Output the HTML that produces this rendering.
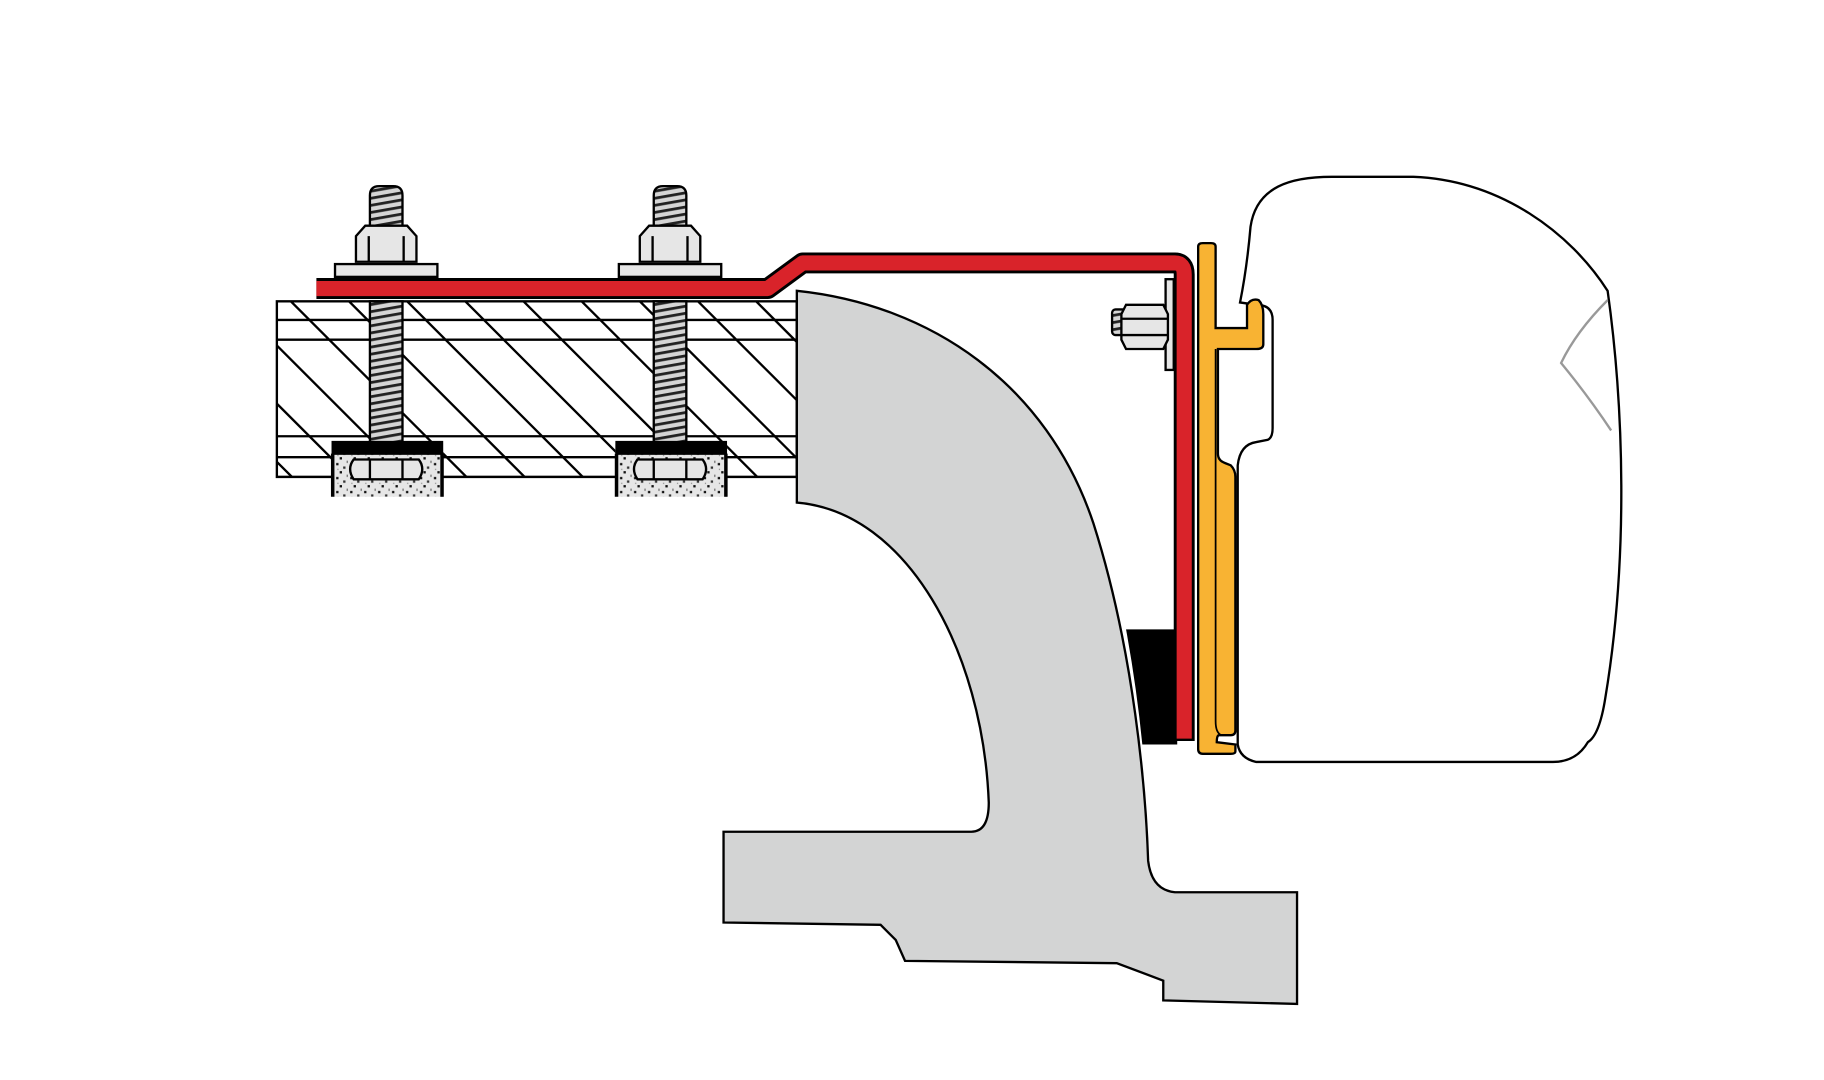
<!DOCTYPE html>
<html><head><meta charset="utf-8"><style>html,body{margin:0;padding:0;background:#fff}svg{display:block}</style></head>
<body>
<svg width="1824" height="1080" viewBox="0 0 1568 928.4" xmlns="http://www.w3.org/2000/svg">
<defs>
<clipPath id="wood"><rect x="238" y="259" width="447" height="151"/></clipPath>
<pattern id="thr" width="10" height="6" patternUnits="userSpaceOnUse" patternTransform="rotate(-10)">
<rect width="10" height="6" fill="#d5d5d5"/><rect y="0" width="10" height="2.4" fill="#222"/></pattern>
<pattern id="spk" width="12" height="12" patternUnits="userSpaceOnUse">
<rect width="12" height="12" fill="#e6e6e6"/><rect x="1" y="2" width="2" height="2" fill="#111"/><rect x="7" y="5" width="2" height="2" fill="#333"/><rect x="4" y="9" width="2" height="2" fill="#111"/><rect x="10" y="0" width="1" height="2" fill="#666"/><rect x="2" y="7" width="1" height="1" fill="#888"/></pattern>
</defs>
<rect width="1568" height="928.4" fill="#fff"/>
<!-- wood -->
<g clip-path="url(#wood)" stroke="#000" stroke-width="2" fill="none">
<rect x="238" y="259" width="447" height="151" fill="#fff"/>
<g id="h"></g>
<path d="M150,259 l151,151 M200,259 l151,151 M250,259 l151,151 M300,259 l151,151 M350,259 l151,151 M400,259 l151,151 M450,259 l151,151 M500,259 l151,151 M550,259 l151,151 M600,259 l151,151 M650,259 l151,151 M100,259 l151,151 M203,259 l-0,0"/>
<path d="M238,275 H685 M238,292 H685 M238,375 H685 M238,393 H685"/>
</g>
<rect x="238" y="259" width="447" height="151" fill="none" stroke="#000" stroke-width="2"/>
<!-- bolts -->
<g id="bolt" stroke="#000" stroke-width="2">
<rect x="318" y="259" width="28" height="122" fill="url(#thr)"/>
<path d="M318,195 L318,168 Q318,160 326,160 L338,160 Q346,160 346,168 L346,195 Z" fill="url(#thr)"/>
<path d="M306,203 L314,194 L350,194 L358,203 L358,225 L306,225 Z" fill="#e6e6e6"/>
<path d="M317,203 V225 M347,203 V225" fill="none"/>
<rect x="288" y="227" width="88" height="11" fill="#e6e6e6"/>
<rect x="285" y="381" width="96" height="46" fill="url(#spk)" stroke="none"/>
<rect x="286" y="380" width="94" height="10" fill="#000"/>
<path d="M286,390 V427 M380,390 V427" fill="none" stroke-width="3"/>
<path d="M304,395 Q298,403 304,412 L360,412 Q366,403 360,395 Z" fill="#e6e6e6"/>
<path d="M318,395 V412 M346,395 V412" fill="none"/>
</g>
<use href="#bolt" x="244"/>
<!-- gray arch -->
<path d="M685,250 C800,262 900,330 940,450 C975,560 985,680 987,740 Q990,765 1010,767 L1115,767 L1115,863 L1000,860 L1000,843 L960,828 L778,826 L770,808 L757,795 L622,793 L622,715 L835,715 Q850,715 850,690 C845,560 780,440 685,432 Z" fill="#d3d4d4" stroke="#000" stroke-width="2"/>
<!-- black block -->
<path d="M968,541 L1012,541 L1012,640 L982,640 Q977,590 968,541 Z" fill="#000"/>
<!-- small nut and plate -->
<g stroke="#000" stroke-width="2">
<rect x="1002" y="240" width="7" height="78" fill="#e6e6e6"/>
<rect x="956" y="266" width="14" height="22" rx="3" fill="url(#thr)"/>
<path d="M968,262 L1000,262 L1004,270 L1004,292 L1000,300 L968,300 L964,292 L964,270 Z" fill="#e6e6e6"/>
<path d="M964,274 H1004 M964,288 H1004" fill="none"/>
</g>
<!-- red bracket -->
<path d="M272,248 L660,248 L690,226 L1010,226 Q1018,226 1018,236 L1018,637" fill="none" stroke="#000" stroke-width="18" stroke-linejoin="round"/>
<path d="M272,248 L660,248 L690,226 L1010,226 Q1018,226 1018,236 L1018,635" fill="none" stroke="#d9232a" stroke-width="13" stroke-linejoin="round"/>
<!-- right awning body -->
<path d="M1075,195 C1080,160 1110,152 1145,152 L1215,152 C1290,155 1350,200 1382,250 C1396,350 1400,480 1380,600 Q1375,632 1365,638 Q1355,655 1335,655 L1080,655 Q1066,652 1064,640 L1064,400 Q1066,382 1080,380 L1090,378 Q1094,376 1094,368 L1094,275 Q1094,262 1080,262 L1066,260 Q1072,230 1075,195 Z" fill="#fff" stroke="#000" stroke-width="2"/>
<path d="M1382,258 Q1355,285 1342,312 Q1365,340 1385,370" fill="none" stroke="#999" stroke-width="2"/>
<!-- yellow rail -->
<path d="M1030,212 Q1030,209 1034,209 L1041,209 Q1045,209 1045,212 L1045,282 L1072,282 L1072,262 Q1076,256 1082,258 Q1086,262 1086,270 L1086,296 Q1086,300 1080,300 L1047,300 L1047,390 Q1047,396 1053,398 L1058,400 Q1062,404 1062,410 L1062,628 Q1062,632 1058,632 L1048,632 Q1046,632 1046,638 L1062,640 L1062,646 Q1062,648 1058,648 L1034,648 Q1030,648 1030,644 Z" fill="#f8b333" stroke="#000" stroke-width="2"/>
<path d="M1045,300 L1045,620 Q1045,630 1050,632" fill="none" stroke="#000" stroke-width="1.5"/>
</svg>
</body></html>
